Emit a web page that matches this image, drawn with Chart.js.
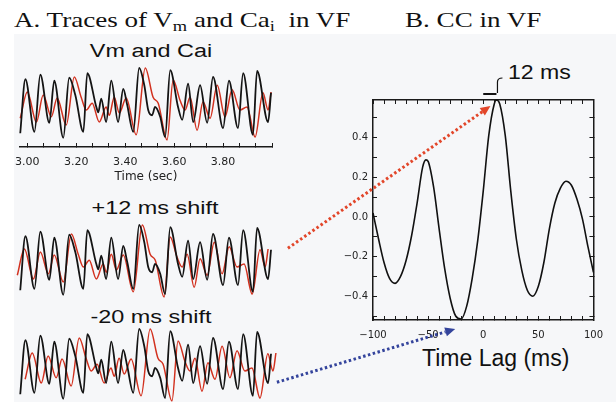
<!DOCTYPE html>
<html><head><meta charset="utf-8">
<script src="https://cdn.jsdelivr.net/npm/chart.js@4.4.1/dist/chart.umd.min.js"></script>
<style>
html,body{margin:0;padding:0;background:#fff;}
#fig{position:relative;width:616px;height:402px;overflow:hidden;background:#fff;}
.bg{position:absolute;left:14px;top:34px;right:0;bottom:0;background:#f6f7f9;}
canvas.cv{position:absolute;}
.t{position:absolute;white-space:nowrap;color:#111;}
.serif{font-family:"Liberation Serif","Times New Roman",serif;font-size:22px;line-height:22px;transform:scaleX(1.23);transform-origin:0 0;}
.serif sub{font-size:0.68em;vertical-align:-0.28em;line-height:0;}
.sans{font-family:"Liberation Sans",Arial,sans-serif;font-size:18px;line-height:18px;text-align:center;transform:scaleX(1.3);}
.lag{font-family:"Liberation Sans",Arial,sans-serif;font-size:23px;line-height:23px;}
.ms{font-family:"Liberation Sans",Arial,sans-serif;font-size:21px;line-height:21px;transform:scaleX(1.1);transform-origin:0 0;}
</style></head>
<body>
<div id="fig">
  <div class="bg"></div>
  <div class="t serif" style="left:14px;top:9px;">A. Traces of V<sub>m</sub> and Ca<sub>i</sub>&nbsp; in VF</div>
  <div class="t serif" style="left:405px;top:9px;">B. CC in VF</div>
  <div class="t sans" id="title0" style="left:51px;width:200px;top:42px;"></div>
  <div class="t sans" id="title1" style="left:55px;width:200px;top:199px;"></div>
  <div class="t sans" id="title2" style="left:51px;width:200px;top:308px;"></div>
  <div class="t ms" style="left:508px;top:61px;">12 ms</div>
  <div class="t lag" style="left:422px;top:347px;">Time Lag (ms)</div>
</div>
<script>
// ---- Panel A: membrane voltage (black) and calcium (red) traces, normalised ----
const vmTime  = [2.971, 2.992, 3.029, 3.053, 3.090, 3.110, 3.147, 3.171, 3.196, 3.229,
                 3.245, 3.282, 3.290, 3.302, 3.322, 3.343, 3.371, 3.392, 3.408, 3.433,
                 3.457, 3.478, 3.494, 3.510, 3.522, 3.543, 3.563, 3.584, 3.616, 3.633,
                 3.657, 3.678, 3.706, 3.735, 3.759, 3.800, 3.824, 3.861, 3.882, 3.922,
                 3.939, 3.984, 3.996];
const vmValue = [0.13, 0.85, 0.15, 0.91, 0.27, 0.83, 0.07, 0.87, 0.64, 0.15,
                 0.93, 0.48, 0.41, 0.59, 0.28, 0.83, 0.28, 0.72, 0.51, 0.15,
                 1.00, 0.77, 0.44, 0.37, 0.48, 0.35, 0.08, 0.97, 0.48, 0.31,
                 0.79, 0.28, 0.77, 0.27, 0.88, 0.20, 0.83, 0.20, 0.93, 0.11,
                 0.96, 0.28, 0.67];
const caTime  = [2.971, 3.000, 3.037, 3.065, 3.098, 3.122, 3.159, 3.192, 3.220, 3.241,
                 3.265, 3.294, 3.322, 3.335, 3.355, 3.376, 3.404, 3.445, 3.482, 3.514,
                 3.535, 3.571, 3.596, 3.624, 3.645, 3.665, 3.694, 3.718, 3.747, 3.776,
                 3.808, 3.837, 3.869, 3.898, 3.931, 3.963, 3.984, 3.996];
const caValue = [0.33, 0.68, 0.28, 0.64, 0.35, 0.60, 0.24, 0.88, 0.61, 0.44,
                 0.53, 0.28, 0.48, 0.37, 0.61, 0.40, 0.60, 0.11, 1.00, 0.61,
                 0.53, 0.04, 0.84, 0.57, 0.44, 0.61, 0.17, 0.55, 0.33, 0.77,
                 0.35, 0.71, 0.44, 0.48, 0.08, 0.67, 0.44, 0.68];
const panelTitles = ['Vm and Cai', '+12 ms shift', '-20 ms shift'];
const shiftSec    = [0, 0.012, -0.020];   // shift applied to the Ca trace in each panel
const timeTicks      = [3.000, 3.0667, 3.1333, 3.200, 3.2667, 3.3333, 3.400, 3.4667,
                        3.5333, 3.600, 3.6667, 3.7333, 3.800, 3.8667, 3.9333, 4.000];
const timeTickLabels = ['3.00', '', '', '3.20', '', '', '3.40', '', '', '3.60', '', '',
                        '3.80', '', '', ''];

// ---- Panel B: cross-correlation vs time lag ----
const ccLag   = [-100, -95, -90, -85, -80, -75, -70, -65, -60, -55, -52, -50, -45, -40,
                 -35, -30, -25, -20, -15, -10, -5, 0, 5, 10, 12, 15, 20, 25, 30, 35,
                 40, 45, 50, 55, 60, 65, 70, 75, 80, 85, 90, 95, 100];
const ccValue = [0.02, -0.11, -0.23, -0.31, -0.335, -0.30, -0.22, -0.095, 0.07, 0.25,
                 0.288, 0.28, 0.15, -0.06, -0.26, -0.41, -0.50, -0.515, -0.45, -0.31,
                 -0.12, 0.13, 0.41, 0.57, 0.59, 0.57, 0.41, 0.13, -0.11, -0.27,
                 -0.37, -0.40, -0.35, -0.23, -0.06, 0.07, 0.145, 0.18, 0.16, 0.09,
                 -0.01, -0.15, -0.28];
const ccXTicks      = [-100, -90, -80, -70, -60, -50, -40, -30, -20, -10, 0,
                       10, 20, 30, 40, 50, 60, 70, 80, 90, 100];
const ccXTickLabels = ['\u2212100', '', '', '', '', '\u221250', '', '', '', '', '0',
                       '', '', '', '', '50', '', '', '', '', '100'];
const ccYTicks      = [-0.5, -0.4, -0.3, -0.2, -0.1, 0, 0.1, 0.2, 0.3, 0.4, 0.5];
const ccYTickLabels = ['', '\u22120.4', '', '\u22120.2', '', '0.0', '', '0.2', '', '0.4', ''];
const peakLag = 12;

const INK = '#1a1a1a';
const fig = document.getElementById('fig');
panelTitles.forEach((t, i) => { document.getElementById('title' + i).textContent = t; });

function addCanvas(left, top, w, h, z) {
  const c = document.createElement('canvas');
  c.className = 'cv'; c.width = w; c.height = h;
  c.style.left = left + 'px'; c.style.top = top + 'px';
  c.style.width = w + 'px'; c.style.height = h + 'px';
  if (z) c.style.zIndex = z;
  fig.appendChild(c);
  return c;
}
const setTicks = arr => s => { s.ticks = arr.map(v => ({ value: v })); };
const common = { responsive: false, animation: false, events: [], devicePixelRatio: 1,
  plugins: { legend: { display: false }, tooltip: { enabled: false } } };

// trace panels
const panelGeom = [
  { left: 0, top: 58,  w: 290, h: 130, xmin: 2.97, xmax: 4.00, ymin: -0.0533, ymax: 1.0267,
    pad: { left: 20, right: 18, top: 8, bottom: 0 }, axis: true },
  { left: 0, top: 212, w: 300, h: 100, xmin: 2.94, xmax: 4.06, ymin: -0.1, ymax: 1.1,
    pad: { left: 12.66, right: 13.32, top: 5.5, bottom: 4.5 }, axis: false },
  { left: 0, top: 316, w: 300, h: 100, xmin: 2.94, xmax: 4.06, ymin: -0.1, ymax: 1.1,
    pad: { left: 12.66, right: 13.32, top: 5.5, bottom: 4.5 }, axis: false }
];
const panels = panelGeom.map((g, idx) => {
  const cv = addCanvas(g.left, g.top, g.w, g.h);
  const xScale = { type: 'linear', min: g.xmin, max: g.xmax, display: g.axis };
  if (g.axis) Object.assign(xScale, {
    afterBuildTicks: setTicks(timeTicks),
    afterFit: s => { s.height = 41; },
    grid: { drawOnChartArea: false, drawTicks: true, tickLength: -4, color: INK, lineWidth: 1 },
    border: { display: true, color: INK, width: 1.5 },
    ticks: { autoSkip: false, maxRotation: 0, padding: 13, color: '#222',
      font: { family: 'DejaVu Sans', size: 11 }, callback: (v, i) => timeTickLabels[i] },
    title: { display: true, text: 'Time (sec)', color: '#222',
      font: { family: 'DejaVu Sans', size: 12 }, padding: { top: 0, bottom: 4 } }
  });
  const chart = new Chart(cv, {
    type: 'line',
    data: { datasets: [
      { label: 'Vm', data: vmTime.map((t, i) => ({ x: t, y: vmValue[i] })),
        borderColor: '#141414', borderWidth: 1.8, pointRadius: 0,
        cubicInterpolationMode: 'monotone', clip: false },
      { label: 'Cai', data: caTime.map((t, i) => ({ x: t - shiftSec[idx], y: caValue[i] })),
        borderColor: '#d2311f', borderWidth: 1.5, pointRadius: 0,
        cubicInterpolationMode: 'monotone', clip: false }
    ] },
    options: Object.assign({}, common, {
      layout: { padding: g.pad },
      scales: { x: xScale, y: { type: 'linear', min: g.ymin, max: g.ymax, display: false } }
    })
  });
  return { chart, g };
});

// cross-correlation chart
const CC = { left: 330, top: 85, w: 286, h: 290 };
const ccCanvas = addCanvas(CC.left, CC.top, CC.w, CC.h);
const tickFont = { family: 'DejaVu Sans', size: 10 };
const frameGrid = { drawOnChartArea: false, drawTicks: true, tickLength: -4, color: INK, lineWidth: 1 };
const frameBorder = { display: true, color: INK, width: 1.5 };
const ccChart = new Chart(ccCanvas, {
  type: 'line',
  data: { datasets: [{ label: 'CC', data: ccLag.map((l, i) => ({ x: l, y: ccValue[i] })),
    borderColor: '#111', borderWidth: 1.6, pointRadius: 0,
    cubicInterpolationMode: 'monotone', clip: false }] },
  options: Object.assign({}, common, {
    layout: { padding: 0 },
    scales: {
      x: { type: 'linear', position: 'bottom', min: -100, max: 100,
        afterBuildTicks: setTicks(ccXTicks), afterFit: s => { s.height = 55; },
        grid: frameGrid, border: frameBorder,
        ticks: { autoSkip: false, maxRotation: 0, padding: 13, color: '#222', font: tickFont,
          callback: (v, i) => ccXTickLabels[i] } },
      x2: { type: 'linear', position: 'top', min: -100, max: 100,
        afterBuildTicks: setTicks(ccXTicks), afterFit: s => { s.height = 8; },
        grid: frameGrid, border: frameBorder, ticks: { display: false } },
      y: { type: 'linear', position: 'left', min: -0.52, max: 0.59,
        afterBuildTicks: setTicks(ccYTicks), afterFit: s => { s.width = 43; },
        grid: frameGrid, border: frameBorder,
        ticks: { autoSkip: false, padding: 9, color: '#222', font: tickFont,
          callback: (v, i) => ccYTickLabels[i] } },
      y2: { type: 'linear', position: 'right', min: -0.52, max: 0.59,
        afterBuildTicks: setTicks(ccYTicks), afterFit: s => { s.width = 14; },
        grid: frameGrid, border: frameBorder, ticks: { display: false } }
    }
  })
});

// overlay: dotted arrows linking panels to the CC curve, and the 12 ms marker
const ov = addCanvas(0, 0, 616, 402, 5);
ov.style.pointerEvents = 'none';
const octx = ov.getContext('2d');
function pagePt(p, xv, yv) {
  return { x: p.g.left + p.chart.scales.x.getPixelForValue(xv),
           y: p.g.top + p.chart.scales.y.getPixelForValue(yv) };
}
function ccPt(lag, val) {
  return { x: CC.left + ccChart.scales.x.getPixelForValue(lag),
           y: CC.top + ccChart.scales.y.getPixelForValue(val) };
}
function dottedArrow(a, b, color) {
  const ang = Math.atan2(b.y - a.y, b.x - a.x), head = 10, hw = 4.5;
  const bx = b.x - head * Math.cos(ang), by = b.y - head * Math.sin(ang);
  octx.save();
  octx.strokeStyle = color; octx.lineWidth = 3; octx.setLineDash([2.5, 2.5]);
  octx.beginPath(); octx.moveTo(a.x, a.y); octx.lineTo(bx, by); octx.stroke();
  octx.setLineDash([]); octx.fillStyle = color; octx.beginPath();
  octx.moveTo(b.x, b.y);
  octx.lineTo(bx + hw * Math.sin(ang), by - hw * Math.cos(ang));
  octx.lineTo(bx - hw * Math.sin(ang), by + hw * Math.cos(ang));
  octx.closePath(); octx.fill(); octx.restore();
}
const redStart = pagePt(panels[1], 4.065, 0.69);
const redTip = ccPt(peakLag, 0.59); redTip.x -= 6; redTip.y += 6;
dottedArrow(redStart, redTip, '#e2462a');
const blueStart = pagePt(panels[2], 4.02, 0.29);
const blueTip = { x: ccPt(-20, 0).x - 6, y: CC.top + ccChart.chartArea.bottom + 9 };
dottedArrow(blueStart, blueTip, '#34449c');

// 12 ms bar from lag 0 to the peak lag, and leader line to the label
const b0 = ccPt(0, 0.59), b1 = ccPt(peakLag, 0.59);
octx.save();
octx.strokeStyle = '#111'; octx.lineWidth = 2;
octx.beginPath(); octx.moveTo(b0.x, b1.y - 6); octx.lineTo(b1.x, b1.y - 6); octx.stroke();
octx.lineWidth = 1.2;
octx.beginPath(); octx.moveTo(b1.x + 1, b1.y - 7); octx.lineTo(b1.x + 1, b1.y - 18);
octx.quadraticCurveTo(b1.x + 1, b1.y - 22, b1.x + 6, b1.y - 22); octx.stroke();
octx.restore();
</script>
</body></html>
